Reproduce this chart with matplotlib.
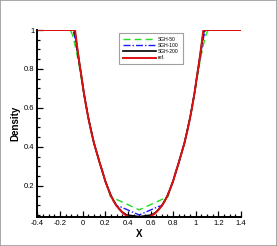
import matplotlib
matplotlib.use('Agg')
import matplotlib.pyplot as plt
from matplotlib.patches import Rectangle
from matplotlib.ticker import MultipleLocator

plt.rcParams['font.family'] = ['Liberation Sans', 'DejaVu Sans']

# ── datos ────────────────────────────────────────────────────────────────────
x_ref = [-0.4, -0.067, -0.05, -0.03, -0.01, 0.01, 0.03, 0.05, 0.075, 0.10,
         0.125, 0.15, 0.175, 0.20, 0.225, 0.25, 0.275, 0.30, 0.325, 0.35,
         0.375, 0.40, 0.425, 0.45, 0.5, 0.55, 0.575, 0.60, 0.625, 0.65, 0.675,
         0.70, 0.725, 0.75, 0.775, 0.80, 0.825, 0.85, 0.875, 0.90, 0.925, 0.95,
         0.97, 0.99, 1.01, 1.03, 1.05, 1.067, 1.4]
rho_ref = [1.0, 1.0, 0.92, 0.835, 0.76, 0.68, 0.61, 0.55, 0.48, 0.42,
           0.37, 0.32, 0.275, 0.225, 0.185, 0.15, 0.12, 0.098, 0.08, 0.064,
           0.052, 0.043, 0.037, 0.034, 0.033, 0.034, 0.037, 0.043, 0.052, 0.064,
           0.08, 0.098, 0.12, 0.15, 0.185, 0.225, 0.275, 0.32, 0.37, 0.42, 0.48,
           0.55, 0.61, 0.68, 0.76, 0.835, 0.92, 1.0, 1.0]

x_50 = [-0.4, -0.11, -0.09, -0.07, -0.05, -0.03, -0.01, 0.01, 0.03, 0.05,
        0.075, 0.10, 0.125, 0.15, 0.175, 0.20, 0.225, 0.245, 0.5, 0.755, 0.775,
        0.80, 0.825, 0.85, 0.875, 0.90, 0.925, 0.95, 0.97, 0.99, 1.01, 1.03,
        1.05, 1.07, 1.09, 1.11, 1.4]
rho_50 = [1.0, 1.0, 0.975, 0.93, 0.875, 0.815, 0.745, 0.675, 0.61, 0.55,
          0.48, 0.42, 0.37, 0.32, 0.275, 0.225, 0.185, 0.145, 0.077, 0.145, 0.185,
          0.225, 0.275, 0.32, 0.37, 0.42, 0.48, 0.55, 0.61, 0.675, 0.745, 0.815,
          0.875, 0.93, 0.975, 1.0, 1.0]

x_100 = [-0.4, -0.085, -0.07, -0.05, -0.03, -0.01, 0.01, 0.05, 0.10, 0.15,
         0.20, 0.25, 0.30, 0.33, 0.5, 0.67, 0.70, 0.75, 0.80, 0.85, 0.90, 0.95,
         0.99, 1.01, 1.03, 1.05, 1.07, 1.085, 1.4]
rho_100 = [1.0, 1.0, 0.965, 0.9, 0.83, 0.757, 0.68, 0.55, 0.42, 0.32,
           0.225, 0.15, 0.098, 0.094, 0.051, 0.094, 0.098, 0.15, 0.225, 0.32,
           0.42, 0.55, 0.68, 0.757, 0.83, 0.9, 0.965, 1.0, 1.0]

x_200 = [-0.4, -0.075, -0.06, -0.05, -0.03, -0.01, 0.01, 0.05, 0.10, 0.15,
         0.20, 0.25, 0.30, 0.35, 0.389, 0.5, 0.611, 0.65, 0.70, 0.75, 0.80,
         0.85, 0.90, 0.95, 0.99, 1.01, 1.03, 1.05, 1.06, 1.075, 1.4]
rho_200 = [1.0, 1.0, 0.96, 0.915, 0.835, 0.76, 0.68, 0.55, 0.42, 0.32,
           0.225, 0.15, 0.098, 0.066, 0.051, 0.042, 0.051, 0.066, 0.098, 0.15,
           0.225, 0.32, 0.42, 0.55, 0.68, 0.76, 0.835, 0.915, 0.96, 1.0, 1.0]

x_ticks = [-0.4, -0.2, 0, 0.2, 0.4, 0.6, 0.8, 1, 1.2, 1.4]
x_ticklabels = ['-0.4', '-0.2', '0', '0.2', '0.4', '0.6', '0.8', '1', '1.2', '1.4']
y_ticks = [0.2, 0.4, 0.6, 0.8, 1]
y_ticklabels = ['0.2', '0.4', '0.6', '0.8', '1']

# ── figura ───────────────────────────────────────────────────────────────────
fig = plt.figure(figsize=(2.77, 2.46), dpi=100)
ax = fig.add_axes([0.135, 0.116, 0.735, 0.762])

ax.plot(x_50, rho_50, color='#22dd22', ls=(0, (5, 3)), lw=1.0, label='SGH-50')
ax.plot(x_100, rho_100, color='#1a1aff', ls=(0, (5, 1.5, 1, 1.5)), lw=1.0,
        label='SGH-100')
ax.plot(x_200, rho_200, color='black', lw=1.2, label='SGH-200')
ax.plot(x_ref, rho_ref, color='#dd1111', lw=1.4, label='ref.')

ax.set_xlim(-0.4, 1.4)
ax.set_ylim(0.038, 1.0)
ax.set_xticks(x_ticks)
ax.set_xticklabels(x_ticklabels)
ax.set_yticks(y_ticks)
ax.set_yticklabels(y_ticklabels)
ax.xaxis.set_minor_locator(MultipleLocator(0.05))
ax.yaxis.set_minor_locator(MultipleLocator(0.05))
ax.tick_params(which='both', direction='in', top=False, right=False,
               labelsize=5.5, width=0.9, pad=2)
ax.tick_params(which='major', length=4)
ax.tick_params(which='minor', length=2)

for s in ['top', 'right']:
    ax.spines[s].set_visible(False)
for s in ['left', 'bottom']:
    ax.spines[s].set_linewidth(1.4)

ax.set_xlabel('X', fontsize=7, fontweight='bold', labelpad=1)
ax.set_ylabel('Density', fontsize=7, fontweight='bold', labelpad=3)

leg = ax.legend(loc='upper left', bbox_to_anchor=(0.39, 1.0), fontsize=3.6,
                frameon=True, fancybox=False, edgecolor='#888888',
                handlelength=6.5, handletextpad=0.4, borderpad=0.8,
                labelspacing=0.25)
leg.get_frame().set_linewidth(0.8)

fig.patches.append(Rectangle((0, 0), 1, 1, transform=fig.transFigure,
                             fill=False, edgecolor='#999999', lw=1.2))

fig.savefig('out.png', dpi=100)
